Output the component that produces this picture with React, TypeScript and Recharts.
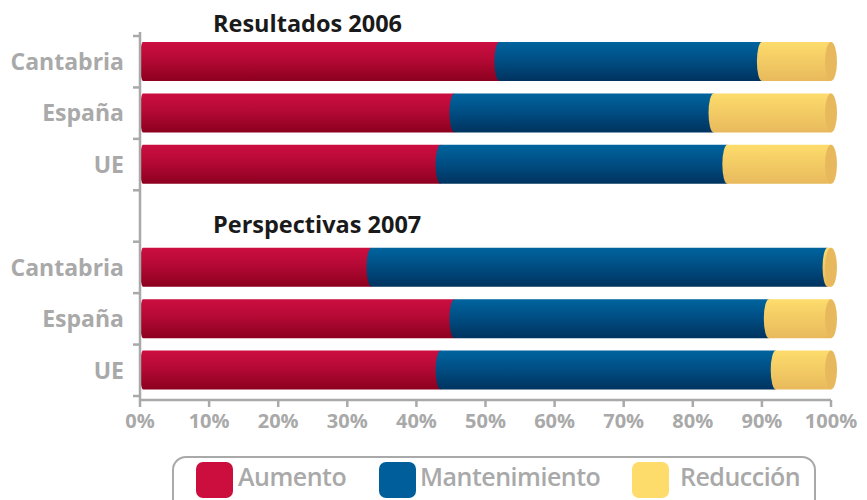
import React from "react"
import { BarChart, Bar, XAxis, YAxis } from "recharts"

// regions, with an empty row between the two groups
const regions = ["Cantabria", "España", "UE", "", "Cantabria", "España", "UE"]
const aumento = [52, 45.5, 43.5, null, 33.5, 45.5, 43.5]
const mantenimiento = [38, 37.5, 41.5, null, 66, 45.5, 48.5]
const reduccion = [10, 17, 15, null, 0.5, 9, 8]
const xTicks = [0, 10, 20, 30, 40, 50, 60, 70, 80, 90, 100]
const groupTitles = ["Resultados 2006", "Perspectivas 2007"]

const legendItems = [
  { label: "Aumento", color: "#cc0e3e" },
  { label: "Mantenimiento", color: "#005f9b" },
  { label: "Reducción", color: "#fddc6b" },
]

const data = regions.map((region, i) => ({
  id: "r" + i,
  region,
  aumento: aumento[i],
  mantenimiento: mantenimiento[i],
  reduccion: reduccion[i],
}))

const GRAY = "#a9a9a9"
const FONT = "'Open Sans', sans-serif"

function Cylinder(props: any) {
  const { x, y, width, height, gradId, cap, first } = props
  if (!width || width <= 0 || !height) return null
  const ry = height / 2
  // first segment: small rounding inside its own box; others bulge into the previous one
  const rx = first ? 3 : 5
  const x0 = first ? x + rx : x
  const d = `M ${x0} ${y} H ${x + width} V ${y + height} H ${x0} A ${rx} ${ry} 0 0 1 ${x0} ${y} Z`
  return (
    <g>
      <path d={d} fill={`url(#${gradId})`} />
      {cap && <ellipse cx={x + width} cy={y + ry} rx={6} ry={ry} fill="#e7b95c" />}
    </g>
  )
}

function RegionTick(props: any) {
  const { y, payload, index } = props
  const half = payload && payload.offset ? payload.offset : 25.3
  const label = regions[index] ?? ""
  return (
    <g>
      <text
        x={124}
        y={y}
        dy="0.36em"
        textAnchor="end"
        fill={GRAY}
        style={{ fontFamily: FONT, fontWeight: 700, fontSize: 23 }}
      >
        {label}
      </text>
      <line x1={133} x2={140} y1={y - half} y2={y - half} stroke={GRAY} strokeWidth={2.5} />
      {index === regions.length - 1 && (
        <line x1={133} x2={140} y1={y + half} y2={y + half} stroke={GRAY} strokeWidth={2.5} />
      )}
    </g>
  )
}

export default function App() {
  return (
    <div style={{ position: "absolute", left: 0, top: 0, width: 867, height: 500, background: "#fff", overflow: "hidden" }}>
      <BarChart
        width={867}
        height={440}
        data={data}
        layout="vertical"
        margin={{ top: 32, right: 36, left: 0, bottom: 0 }}
      >
        <defs>
          <linearGradient id="gRed" x1="0" y1="0" x2="0" y2="1">
            <stop offset="0%" stopColor="#cc0e40" />
            <stop offset="40%" stopColor="#b80a36" />
            <stop offset="100%" stopColor="#8c001f" />
          </linearGradient>
          <linearGradient id="gBlue" x1="0" y1="0" x2="0" y2="1">
            <stop offset="0%" stopColor="#00649e" />
            <stop offset="45%" stopColor="#004f85" />
            <stop offset="100%" stopColor="#00335f" />
          </linearGradient>
          <linearGradient id="gYellow" x1="0" y1="0" x2="0" y2="1">
            <stop offset="0%" stopColor="#fddc6c" />
            <stop offset="100%" stopColor="#e8b95c" />
          </linearGradient>
        </defs>
        <XAxis
          type="number"
          domain={[0, 100]}
          ticks={xTicks}
          interval={0}
          tickFormatter={(v) => v + "%"}
          height={40}
          tickSize={7}
          tickMargin={7}
          axisLine={{ stroke: GRAY, strokeWidth: 2.5 }}
          tickLine={{ stroke: GRAY, strokeWidth: 2.5 }}
          tick={{ fill: GRAY, fontSize: 20, fontWeight: 700, fontFamily: FONT }}
        />
        <YAxis
          type="category"
          dataKey="id"
          width={140}
          interval={0}
          padding={{ top: 4, bottom: 4 }}
          axisLine={{ stroke: GRAY, strokeWidth: 2.5 }}
          tickLine={false}
          tick={<RegionTick />}
        />
        <Bar
          dataKey="aumento"
          stackId="a"
          barSize={39}
          isAnimationActive={false}
          shape={(p: any) => <Cylinder {...p} gradId="gRed" first />}
        />
        <Bar
          dataKey="mantenimiento"
          stackId="a"
          barSize={39}
          isAnimationActive={false}
          shape={(p: any) => <Cylinder {...p} gradId="gBlue" />}
        />
        <Bar
          dataKey="reduccion"
          stackId="a"
          barSize={39}
          isAnimationActive={false}
          shape={(p: any) => <Cylinder {...p} gradId="gYellow" cap />}
        />
      </BarChart>

      <svg width={867} height={500} style={{ position: "absolute", left: 0, top: 0, pointerEvents: "none" }}>
        <text x={213} y={32} fill="#1a1a1a" style={{ fontFamily: FONT, fontWeight: 700, fontSize: 23.5 }}>
          {groupTitles[0]}
        </text>
        <text x={213} y={233} fill="#1a1a1a" style={{ fontFamily: FONT, fontWeight: 700, fontSize: 23.5 }}>
          {groupTitles[1]}
        </text>
      </svg>

      <div
        style={{
          position: "absolute",
          left: 172,
          top: 456,
          width: 640,
          height: 60,
          border: `2.5px solid ${GRAY}`,
          borderRadius: 14,
        }}
      />
      {legendItems.map((item, i) => {
        const sq = [196, 379, 632][i]
        const tx = [238, 420, 680][i]
        return (
          <React.Fragment key={item.label}>
            <div
              style={{
                position: "absolute",
                left: sq,
                top: 462,
                width: 37,
                height: 36,
                borderRadius: 7,
                background: item.color,
              }}
            />
            <div
              style={{
                position: "absolute",
                left: tx,
                top: 461,
                fontFamily: FONT,
                fontWeight: 600,
                fontSize: 25,
                lineHeight: "30px",
                color: GRAY,
                letterSpacing: -0.5,
              }}
            >
              {item.label}
            </div>
          </React.Fragment>
        )
      })}
    </div>
  )
}
